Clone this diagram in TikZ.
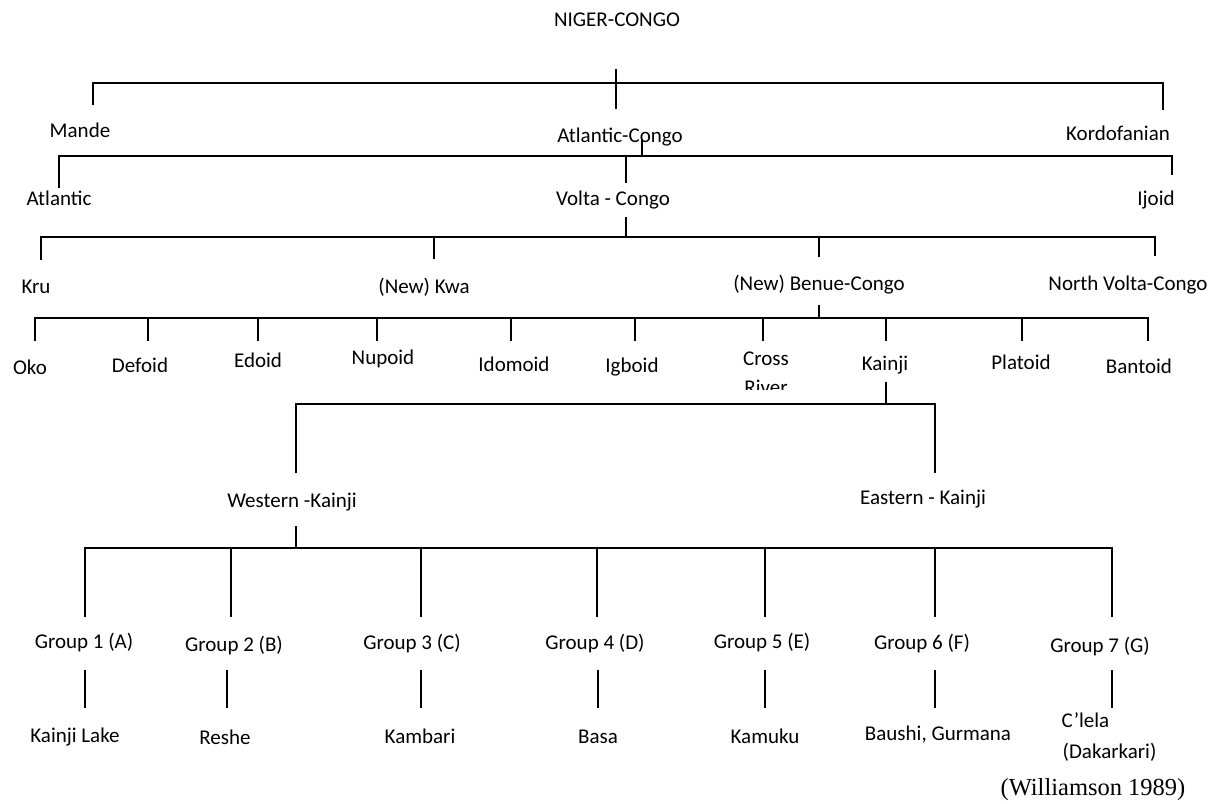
\documentclass[tikz,border=0pt]{standalone}
\usepackage{fontspec}
\setmainfont{Carlito}
\newfontfamily\timesf{Liberation Serif}
\begin{document}
\begin{tikzpicture}[x=1pt,y=-1pt,line width=1.4pt,
  lab/.style={inner sep=0pt,anchor=base,font=\fontsize{21}{25}\selectfont},
  labl/.style={lab,anchor=base west},
  link/.style={draw=black,line width=1.4pt}]
\useasboundingbox (0,0) rectangle (1217,803);
% ---- labels
\node[lab] (nc) at (617,27) {NIGER-CONGO};
\node[lab] (mande) at (80,137) {Mande};
\node[lab] (ac) at (620,142) {Atlantic-Congo};
\node[lab] (kord) at (1118,140) {Kordofanian};
\node[lab] (atl) at (59,205) {Atlantic};
\node[lab] (vc) at (613,205) {Volta - Congo};
\node[lab] (ijoid) at (1156,205) {Ijoid};
\node[lab] (kru) at (36,293) {Kru};
\node[lab] (kwa) at (424,293) {(New) Kwa};
\node[lab] (bc) at (819,290) {(New) Benue-Congo};
\node[lab] (nvc) at (1128,290) {North Volta-Congo};
\node[lab] (oko) at (30,374) {Oko};
\node[lab] (defoid) at (140,372) {Defoid};
\node[lab] (edoid) at (258,367) {Edoid};
\node[lab] (nupoid) at (383,364) {Nupoid};
\node[lab] (idomoid) at (514,371) {Idomoid};
\node[lab] (igboid) at (632,372) {Igboid};
\node[lab] (cross) at (766,365) {Cross};
\begin{scope}
  \clip (700,370) rectangle (830,389);
  \node[lab] (river) at (766,394) {River};
\end{scope}
\node[lab] (kainji) at (885,370) {Kainji};
\node[lab] (platoid) at (1021,369) {Platoid};
\node[lab] (bantoid) at (1139,373) {Bantoid};
\node[lab] (wk) at (292,507) {Western -Kainji};
\node[lab] (ek) at (923,504) {Eastern - Kainji};
\node[lab] (g1) at (84,648) {Group 1 (A)};
\node[lab] (g2) at (234,651) {Group 2 (B)};
\node[lab] (g3) at (412,649) {Group 3 (C)};
\node[lab] (g4) at (595,649) {Group 4 (D)};
\node[lab] (g5) at (762,648) {Group 5 (E)};
\node[lab] (g6) at (922,649) {Group 6 (F)};
\node[lab] (g7) at (1100,652) {Group 7 (G)};
\node[lab] (l1) at (75,742) {Kainji Lake};
\node[lab] (l2) at (225,744) {Reshe};
\node[lab] (l3) at (420,743) {Kambari};
\node[lab] (l4) at (598,743) {Basa};
\node[lab] (l5) at (765,743) {Kamuku};
\node[lab] (l6) at (938,740) {Baushi, Gurmana};
\node[labl] (l7a) at (1061,727) {C’lela};
\node[labl] (l7b) at (1062,758) {(Dakarkari)};
\node[inner sep=0pt,anchor=base,font=\timesf\fontsize{24.5}{28}\selectfont] (src) at (1093,795) {(Williamson 1989)};
% ---- connectors
% level 1
\draw[link] (616,69) -- (616,109);
\draw[link] (93,105) -- (93,83) -- (1163,83) -- (1163,110);
% level 2
\draw[link] (642,140) -- (642,156);
\draw[link] (59,188) -- (59,156) -- (1172,156) -- (1172,175);
\draw[link] (626,156) -- (626,183);
% level 3
\draw[link] (626,217) -- (626,237);
\draw[link] (41,260) -- (41,237) -- (1155,237) -- (1155,256);
\draw[link] (434,237) -- (434,259);
\draw[link] (819,237) -- (819,257);
% level 4
\draw[link] (819,305) -- (819,318);
\draw[link] (35,341) -- (35,318) -- (1148,318) -- (1148,341);
\foreach \x in {148,258,377,511,635,763,886,1022}
  \draw[link] (\x,318) -- (\x,341);
% Kainji
\draw[link] (886,382) -- (886,404);
\draw[link] (296,473) -- (296,404) -- (935,404) -- (935,473);
% Western Kainji groups
\draw[link] (296,526) -- (296,548);
\draw[link] (85,617) -- (85,548) -- (1112,548) -- (1112,617);
\foreach \x in {231,421,597,765,935}
  \draw[link] (\x,548) -- (\x,617);
\foreach \x in {85,227,421,598,765,935,1112}
  \draw[link] (\x,670) -- (\x,708);
\end{tikzpicture}
\end{document}
